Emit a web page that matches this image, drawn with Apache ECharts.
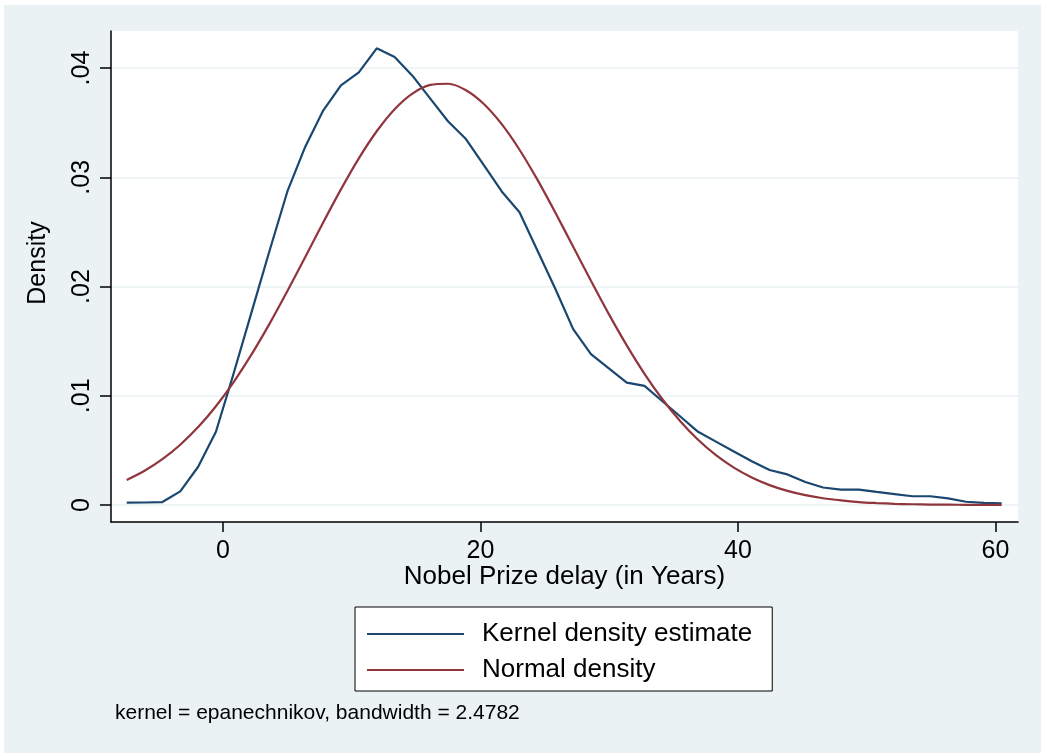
<!DOCTYPE html>
<html>
<head>
<meta charset="utf-8">
<title>Nobel Prize delay density</title>
<script src="https://cdn.jsdelivr.net/npm/echarts@6/dist/echarts.min.js"></script>
<style>
  html, body { margin: 0; background: #fff; }
  #main { position: absolute; left: 4px; top: 5px; width: 1037px; height: 748px; }
</style>
</head>
<body>
<div id="main"></div>
<script>
// evaluation points (years)
var xPoints = [-7.48, -6.09, -4.71, -3.32, -1.93, -0.55, 0.84, 2.23, 3.62, 5.00,
  6.39, 7.78, 9.16, 10.55, 11.94, 13.33, 14.71, 16.10, 17.49, 18.87,
  20.26, 21.65, 23.03, 24.42, 25.81, 27.20, 28.58, 29.97, 31.36, 32.74,
  34.13, 35.52, 36.90, 38.29, 39.68, 41.07, 42.45, 43.84, 45.23, 46.61,
  48.00, 49.39, 50.77, 52.16, 53.55, 54.94, 56.32, 57.71, 59.10, 60.48];

var kernelDensity = [0.00021, 0.00023, 0.00027, 0.00125, 0.0035, 0.0067, 0.0121, 0.0177, 0.0233, 0.0287,
  0.0328, 0.0361, 0.0384, 0.0396, 0.0418, 0.0410, 0.0393, 0.0372, 0.0351, 0.0335,
  0.0311, 0.0287, 0.0268, 0.0233, 0.0198, 0.0161, 0.0138, 0.0125, 0.0112, 0.0109,
  0.0095, 0.0081, 0.0067, 0.0058, 0.0049, 0.0040, 0.0032, 0.0028, 0.0021, 0.0016,
  0.0014, 0.0014, 0.0012, 0.0010, 0.0008, 0.0008, 0.0006, 0.0003, 0.0002, 0.00016];

var normalDensity = [0.00229, 0.00313, 0.00419, 0.00552, 0.00713, 0.00904, 0.01128, 0.01381, 0.01660, 0.01958,
  0.02271, 0.02586, 0.02889, 0.03173, 0.03421, 0.03623, 0.03766, 0.03845, 0.03856, 0.03797,
  0.03671, 0.03486, 0.03252, 0.02978, 0.02677, 0.02364, 0.02052, 0.01747, 0.01461, 0.01201,
  0.00968, 0.00767, 0.00597, 0.00456, 0.00342, 0.00252, 0.00182, 0.00129, 0.00090, 0.00062,
  0.00042, 0.00027, 0.00018, 0.00011, 0.00007, 0.00004, 0.00003, 0.00002, 0.00001, 0.00001];

var seriesNames = ['Kernel density estimate', 'Normal density'];
var yTicks = [0, 0.01, 0.02, 0.03, 0.04];
var yTickLabels = ['0', '.01', '.02', '.03', '.04'];
var xTicks = [0, 20, 40, 60];
var footnote = 'kernel = epanechnikov, bandwidth = 2.4782';

var FONT = '"Liberation Sans", Arial, Helvetica, sans-serif';

function pairs(ys) {
  return xPoints.map(function (x, i) { return [x, ys[i]]; });
}

var myChart = echarts.init(document.getElementById('main'));

var option = {
  backgroundColor: '#EAF2F3',
  animation: false,
  textStyle: { fontFamily: FONT, color: '#000' },
  grid: [
    // plot region with the axis lines
    { left: 107, top: 26, width: 907, height: 491, show: true, backgroundColor: '#fff', borderWidth: 0 },
    // y ticks / grid lines (0 .. .04)
    { left: 107, top: 63, width: 907, height: 437 },
    // x ticks (0 .. 60)
    { left: 219, top: 26, width: 772.5, height: 491 }
  ],
  xAxis: [
    {
      gridIndex: 0, type: 'value', min: -8.7, max: 61.75,
      axisLine: { onZero: false, lineStyle: { color: '#000', width: 1.5 } },
      axisTick: { show: false }, axisLabel: { show: false }, splitLine: { show: false },
      name: 'Nobel Prize delay (in Years)', nameLocation: 'middle', nameGap: 42,
      nameTextStyle: { fontSize: 26, color: '#000', fontFamily: FONT }
    },
    { gridIndex: 1, type: 'value', min: 0, max: 1, show: false },
    {
      gridIndex: 2, type: 'value', min: xTicks[0], max: xTicks[xTicks.length - 1], interval: 20,
      axisLine: { show: false, onZero: false },
      axisTick: { show: true, length: 10, lineStyle: { color: '#000', width: 1.5 } },
      axisLabel: { margin: 17, fontSize: 25, color: '#000', fontFamily: FONT },
      splitLine: { show: false }
    }
  ],
  yAxis: [
    {
      gridIndex: 0, type: 'value', min: -0.001556, max: 0.043387,
      axisLine: { onZero: false, lineStyle: { color: '#000', width: 1.5 } },
      axisTick: { show: false }, axisLabel: { show: false }, splitLine: { show: false }
    },
    {
      gridIndex: 1, type: 'value', min: yTicks[0], max: yTicks[yTicks.length - 1], interval: 0.01,
      axisLine: { show: false, onZero: false },
      axisTick: { show: true, length: 11, lineStyle: { color: '#000', width: 1.5 } },
      axisLabel: {
        rotate: 90, margin: 16, fontSize: 25, color: '#000', fontFamily: FONT,
        formatter: function (v) {
          var i = Math.round(v * 100);
          return yTickLabels[i];
        }
      },
      splitLine: { show: true, lineStyle: { color: '#EAF2F3', width: 1.5 } }
    },
    { gridIndex: 2, type: 'value', min: 0, max: 1, show: false }
  ],
  legend: {
    data: seriesNames,
    orient: 'vertical',
    left: 351, top: 602,
    padding: [14, 20, 8, 12],
    itemGap: 10,
    icon: 'rect',
    itemWidth: 97, itemHeight: 2,
    backgroundColor: '#fff', borderColor: '#000', borderWidth: 1, borderRadius: 0,
    textStyle: { fontSize: 26, color: '#000', fontFamily: FONT, lineHeight: 26, padding: [0, 0, 0, 13] }
  },
  graphic: [
    {
      type: 'text', x: 34, y: 258, rotation: Math.PI / 2,
      style: { text: 'Density', fontSize: 25, fontFamily: FONT, fill: '#000', align: 'center', verticalAlign: 'middle' }
    },
    {
      type: 'text', x: 111, y: 708,
      style: { text: footnote, fontSize: 21, fontFamily: FONT, fill: '#000', align: 'left', verticalAlign: 'middle' }
    }
  ],
  series: [
    {
      name: seriesNames[0], type: 'line', xAxisIndex: 0, yAxisIndex: 0,
      data: pairs(kernelDensity), symbol: 'none',
      lineStyle: { color: '#1a476f', width: 2.2 }, itemStyle: { color: '#1a476f' }
    },
    {
      name: seriesNames[1], type: 'line', xAxisIndex: 0, yAxisIndex: 0,
      data: pairs(normalDensity), symbol: 'none', smooth: 0.3,
      lineStyle: { color: '#90353b', width: 2.2 }, itemStyle: { color: '#90353b' }
    }
  ]
};

myChart.setOption(option);
</script>
</body>
</html>
